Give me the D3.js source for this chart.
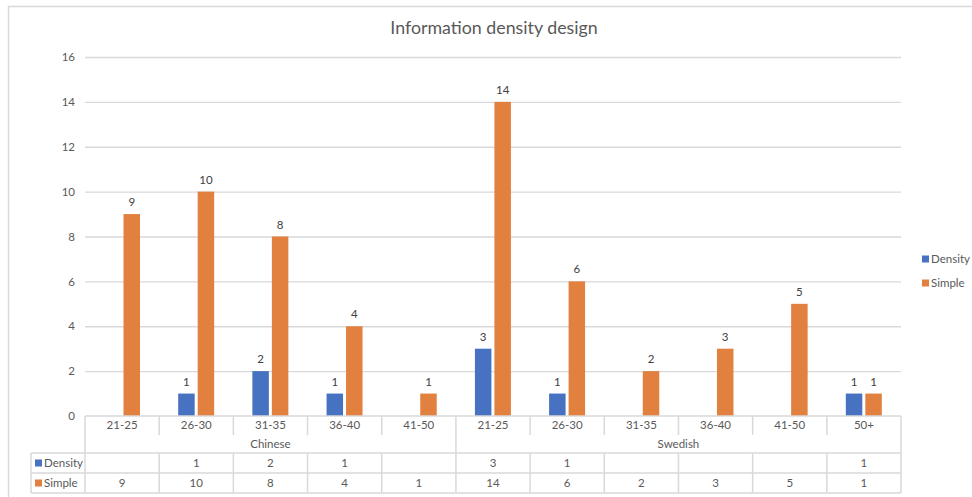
<!DOCTYPE html>
<html>
<head>
<meta charset="utf-8">
<script src="https://cdn.jsdelivr.net/npm/d3@7"></script>
<style>
  html, body { margin: 0; padding: 0; background: #fff; }
  svg { display: block; font-family: Lato, "Open Sans", sans-serif; }
</style>
</head>
<body>
<svg id="chart" width="972" height="497"></svg>
<script>
// Age brackets, grouped by language of the respondents
const groups = ["Chinese", "Swedish"];
const ageLabels = ["21-25", "26-30", "31-35", "36-40", "41-50",
                   "21-25", "26-30", "31-35", "36-40", "41-50", "50+"];
const groupOf = [0, 0, 0, 0, 0, 1, 1, 1, 1, 1, 1];
const seriesNames = ["Density", "Simple"];
const densityValues = [null, 1, 2, 1, null, 3, 1, null, null, null, 1];
const simpleValues = [9, 10, 8, 4, 1, 14, 6, 2, 3, 5, 1];
const yTicks = [0, 2, 4, 6, 8, 10, 12, 14, 16];
const colors = { Density: "#4672C1", Simple: "#E2803F" };

const svg = d3.select("#chart");
const textColor = "#595959";
const gridColor = "#d9d9d9";

// Layout
const plotLeft = 85, plotRight = 901, plotTop = 57, plotBottom = 416;
const legendColLeft = 31;
const rowCat = [416, 436], rowGroup = [436, 453], rowDen = [453, 473], rowSim = [473, 493];

const x = d3.scaleBand().domain(d3.range(ageLabels.length)).range([plotLeft, plotRight]).padding(0);
const xs = d3.scaleBand().domain(seriesNames).range([19, 55]).paddingInner(0.154);
const y = d3.scaleLinear().domain([0, 16]).range([plotBottom, plotTop]);

// Chart frame
svg.append("line").attr("x1", 8.5).attr("x2", 8.5).attr("y1", 6).attr("y2", 497)
  .attr("stroke", gridColor).attr("stroke-width", 1.5);
svg.append("line").attr("x1", 8).attr("x2", 972).attr("y1", 6.5).attr("y2", 6.5)
  .attr("stroke", gridColor).attr("stroke-width", 1.5);

// Title
svg.append("text").attr("x", 494).attr("y", 34).attr("text-anchor", "middle")
  .attr("font-size", 17.8).attr("fill", textColor).text("Information density design");

// Gridlines and y tick labels
const yAxis = d3.axisLeft(y).tickValues(yTicks).tickSize(-(plotRight - plotLeft)).tickPadding(10);
const gy = svg.append("g").attr("transform", `translate(${plotLeft},0)`).call(yAxis);
gy.select(".domain").remove();
gy.selectAll(".tick line").attr("stroke", gridColor).attr("stroke-width", 1.3)
  .filter(d => d === 0).remove();
gy.selectAll(".tick text").attr("fill", textColor).attr("font-size", 11.5)
  .attr("font-family", "Lato, sans-serif");

// Bars
const rows = ageLabels.map((a, i) => ({ i, Density: densityValues[i], Simple: simpleValues[i] }));
const catG = svg.append("g").selectAll("g").data(rows).join("g")
  .attr("transform", d => `translate(${x(d.i)},0)`);
const barData = d => seriesNames.map(s => ({ s, v: d[s] })).filter(e => e.v != null);
catG.selectAll("rect").data(barData).join("rect")
  .attr("x", e => xs(e.s)).attr("width", xs.bandwidth())
  .attr("y", e => y(e.v)).attr("height", e => y(0) - y(e.v))
  .attr("fill", e => colors[e.s]);
catG.selectAll("text.lbl").data(barData).join("text").attr("class", "lbl")
  .attr("x", e => xs(e.s) + xs.bandwidth() / 2).attr("y", e => y(e.v) - 8)
  .attr("text-anchor", "middle").attr("font-size", 11.5).attr("fill", "#404040")
  .text(e => e.v);

// Data table
const tbl = svg.append("g").attr("stroke", gridColor).attr("stroke-width", 1.5);
const hline = (x1, x2, yy) => tbl.append("line").attr("x1", x1).attr("x2", x2).attr("y1", yy).attr("y2", yy);
const vline = (xx, y1, y2) => tbl.append("line").attr("x1", xx).attr("x2", xx).attr("y1", y1).attr("y2", y2);

hline(plotLeft, plotRight, rowCat[0]);
hline(legendColLeft, plotRight, rowDen[0]);
hline(legendColLeft, plotRight, rowSim[0]);
hline(legendColLeft, plotRight, rowSim[1]);
vline(legendColLeft, rowDen[0], rowSim[1]);
const boundaries = d3.range(ageLabels.length + 1).map(i => i < ageLabels.length ? x(i) : plotRight);
boundaries.forEach((bx, i) => {
  const isOuter = i === 0 || i === ageLabels.length || groupOf[i] !== groupOf[i - 1];
  if (isOuter) vline(bx, rowCat[0], rowSim[1]);
  else { vline(bx, rowCat[0], rowCat[1] - 1); vline(bx, rowDen[0], rowSim[1]); }
});

const txt = svg.append("g").attr("fill", textColor).attr("font-size", 11.5);
ageLabels.forEach((a, i) => {
  txt.append("text").attr("x", x(i) + x.bandwidth() / 2).attr("y", 429)
    .attr("text-anchor", "middle").text(a);
  if (densityValues[i] != null)
    txt.append("text").attr("x", x(i) + x.bandwidth() / 2).attr("y", 467)
      .attr("text-anchor", "middle").text(densityValues[i]);
  txt.append("text").attr("x", x(i) + x.bandwidth() / 2).attr("y", 487)
    .attr("text-anchor", "middle").text(simpleValues[i]);
});
groups.forEach((g, gi) => {
  const idx = d3.range(ageLabels.length).filter(i => groupOf[i] === gi);
  const gx0 = x(idx[0]), gx1 = x(idx[idx.length - 1]) + x.bandwidth();
  txt.append("text").attr("x", (gx0 + gx1) / 2).attr("y", 448)
    .attr("text-anchor", "middle").text(g);
});
// Legend keys inside the table
seriesNames.forEach((s, k) => {
  const rowY = k === 0 ? rowDen : rowSim;
  svg.append("rect").attr("x", 35).attr("y", (rowY[0] + rowY[1]) / 2 - 3.5)
    .attr("width", 7).attr("height", 7).attr("fill", colors[s]);
  txt.append("text").attr("x", 44).attr("y", (rowY[0] + rowY[1]) / 2 + 4).text(s);
});

// Side legend
seriesNames.forEach((s, k) => {
  const ly = 259 + k * 24;
  svg.append("rect").attr("x", 922).attr("y", ly - 3.5).attr("width", 7).attr("height", 7)
    .attr("fill", colors[s]);
  txt.append("text").attr("x", 931).attr("y", ly + 4).text(s);
});
</script>
</body>
</html>
